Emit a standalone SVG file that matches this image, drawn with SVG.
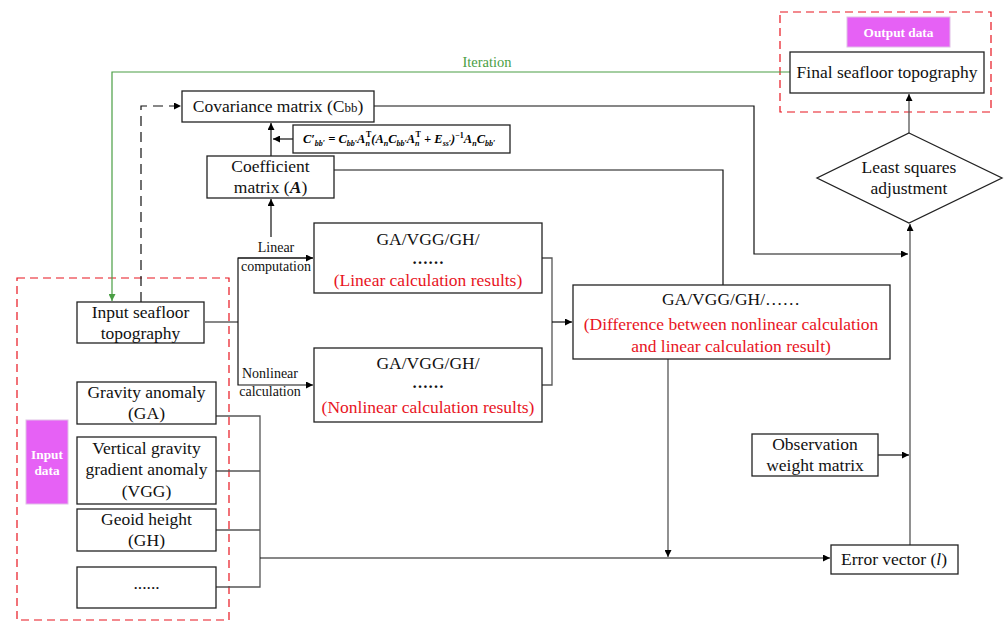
<svg xmlns="http://www.w3.org/2000/svg" width="1005" height="622" viewBox="0 0 1005 622">
<defs>
<marker id="ar" viewBox="0 0 10 10" refX="10" refY="5" markerWidth="9" markerHeight="7" markerUnits="userSpaceOnUse" orient="auto"><path d="M0,0 L10,5 L0,10 z" fill="#000"/></marker>
<marker id="arg" viewBox="0 0 10 10" refX="10" refY="5" markerWidth="9" markerHeight="7" markerUnits="userSpaceOnUse" orient="auto"><path d="M0,0 L10,5 L0,10 z" fill="#4a9e44"/></marker>
<style>
.box{fill:#fff;stroke:#222;stroke-width:1.3}
.t{font-family:"Liberation Serif","Times New Roman",serif;font-size:17.5px;fill:#111;text-anchor:middle}
.d{font-family:"Liberation Serif","Times New Roman",serif;font-size:16px;font-weight:bold;fill:#111;text-anchor:middle}
.r{fill:#e8141e}
.s{font-family:"Liberation Serif","Times New Roman",serif;font-size:14px;fill:#111;text-anchor:middle}
.ln{fill:none;stroke:#111;stroke-width:1.2}
.gr{fill:none;stroke:#555;stroke-width:1.3}
.dash{fill:none;stroke:#e8141e;stroke-width:1.2;stroke-dasharray:8,5}
.lab{fill:#e661f5;stroke:#e0c0e6;stroke-width:1}
.lt{font-family:"Liberation Serif","Times New Roman",serif;font-weight:bold;font-size:13.3px;fill:#fff;text-anchor:middle}
.f{font-family:"Liberation Serif","Times New Roman",serif;font-weight:bold;font-style:italic;font-size:12.5px;fill:#000}
</style>
</defs>

<g id="input-group">
<rect class="dash" x="17" y="278" width="212" height="342"/>
<rect class="lab" x="26" y="420" width="42" height="84"/>
<text class="lt" font-size="12.5" x="47" y="459">Input</text>
<text class="lt" font-size="12.5" x="47" y="475">data</text>
</g>

<g id="output-group">
<rect class="dash" x="780" y="12" width="211" height="100"/>
<rect class="lab" x="847" y="17" width="103" height="30"/>
<text class="lt" x="898.5" y="37">Output data</text>
</g>

<g id="connectors">
<polyline points="790,72 112,72 112,301" fill="none" stroke="#4a9e44" stroke-width="1.2" marker-end="url(#arg)"/>
<text x="487" y="67" font-family="Liberation Serif, serif" font-size="14.5" fill="#4a9e44" text-anchor="middle">Iteration</text>
<polyline points="141,302 141,106 181,106" fill="none" stroke="#111" stroke-width="1.2" stroke-dasharray="10,6" marker-end="url(#ar)"/>
<polyline class="ln" points="374,106 754,106 754,254 908,254" marker-end="url(#ar)"/>
<polyline class="ln" points="334,170 723,170 723,286"/>
<line class="ln" x1="271" y1="156" x2="271" y2="123" marker-end="url(#ar)"/>
<line class="ln" x1="293" y1="139" x2="273" y2="139" marker-end="url(#ar)"/>
<line class="ln" x1="271" y1="237" x2="271" y2="199" marker-end="url(#ar)"/>
<polyline class="ln" points="205,322 238,322"/>
<polyline class="ln" points="313,258 238,258 238,385 313,385" marker-end="url(#ar)"/>
<line class="ln" x1="238" y1="258" x2="313" y2="258" marker-end="url(#ar)"/>
<polyline class="gr" points="542,258 552,258 552,385 542,385"/>
<line class="ln" x1="552" y1="322" x2="572" y2="322" marker-end="url(#ar)"/>
<line class="gr" x1="668" y1="359" x2="668" y2="557" marker-end="url(#ar)"/>
<polyline class="gr" points="216,416 260,416 260,587 216,587"/>
<line class="gr" x1="216" y1="471" x2="260" y2="471"/>
<line class="gr" x1="216" y1="530" x2="260" y2="530"/>
<line class="ln" x1="260" y1="558" x2="830" y2="558" marker-end="url(#ar)"/>
<line class="gr" x1="910" y1="545" x2="910" y2="224" marker-end="url(#ar)"/>
<line class="ln" x1="878" y1="455" x2="909" y2="455" marker-end="url(#ar)"/>
<line class="gr" x1="909" y1="133" x2="909" y2="94" marker-end="url(#ar)"/>
<text class="s" x="276" y="252">Linear</text>
<text class="s" x="276" y="271">computation</text>
<text class="s" x="270" y="378">Nonlinear</text>
<text class="s" x="270" y="396">calculation</text>
</g>

<g id="final">
<rect class="box" x="790" y="52" width="194" height="41"/>
<text class="t" x="887" y="78">Final seafloor topography</text>
</g>

<g id="covariance">
<rect class="box" x="182" y="91" width="192" height="31"/>
<text class="t" x="278" y="112">Covariance matrix (C<tspan font-size="13">bb</tspan>)</text>
</g>

<g id="formula">
<rect class="box" x="293" y="125" width="217" height="28"/>
<text class="f" x="303" y="143">C′<tspan font-size="8" dy="3">bb′</tspan><tspan dy="-3"> = C</tspan><tspan font-size="8" dy="3">bb′</tspan><tspan dy="-3">A</tspan><tspan font-size="8" dy="3">n</tspan><tspan font-size="8" dx="-4" dy="-9" font-style="normal">T</tspan><tspan dy="6">(A</tspan><tspan font-size="8" dy="3">n</tspan><tspan dy="-3">C</tspan><tspan font-size="8" dy="3">bb′</tspan><tspan dy="-3">A</tspan><tspan font-size="8" dy="3">n</tspan><tspan font-size="8" dx="-4" dy="-9" font-style="normal">T</tspan><tspan dy="6"> + E</tspan><tspan font-size="8" dy="3">ss′</tspan><tspan dy="-3">)</tspan><tspan font-size="8" dy="-5" font-style="normal">−1</tspan><tspan dy="5">A</tspan><tspan font-size="8" dy="3">n</tspan><tspan dy="-3">C</tspan><tspan font-size="8" dy="3">bb′</tspan></text>
</g>

<g id="coefficient">
<rect class="box" x="207" y="156" width="127" height="42"/>
<text class="t" x="270.5" y="172">Coefficient</text>
<text class="t" x="270.5" y="193">matrix (<tspan font-weight="bold" font-style="italic">A</tspan>)</text>
</g>

<g id="linear">
<rect class="box" x="314" y="223" width="228" height="70"/>
<text class="t" x="428" y="245">GA/VGG/GH/</text>
<text class="d" x="428" y="264">……</text>
<text class="t r" x="428" y="286">(Linear calculation results)</text>
</g>

<g id="nonlinear">
<rect class="box" x="314" y="348" width="228" height="74"/>
<text class="t" x="428" y="369">GA/VGG/GH/</text>
<text class="d" x="428" y="388">……</text>
<text class="t r" x="428" y="413">(Nonlinear calculation results)</text>
</g>

<g id="difference">
<rect class="box" x="573" y="285" width="317" height="74"/>
<text class="t" x="731" y="305">GA/VGG/GH/……</text>
<text class="t r" x="731" y="330">(Difference between nonlinear calculation</text>
<text class="t r" x="731" y="352">and linear calculation result)</text>
</g>

<g id="lsa">
<polygon points="909,133 1002,178 909,223 817,178" fill="#fff" stroke="#222" stroke-width="1.3"/>
<text class="t" x="909" y="173">Least squares</text>
<text class="t" x="909" y="194">adjustment</text>
</g>

<g id="observation">
<rect class="box" x="752" y="434" width="126" height="42"/>
<text class="t" x="815" y="450">Observation</text>
<text class="t" x="815" y="471">weight matrix</text>
</g>

<g id="error">
<rect class="box" x="831" y="545" width="127" height="29"/>
<text class="t" x="894" y="565">Error vector (<tspan font-style="italic">l</tspan>)</text>
</g>

<g id="input-seafloor">
<rect class="box" x="77" y="302" width="127" height="41"/>
<text class="t" x="140.5" y="318">Input seafloor</text>
<text class="t" x="140.5" y="339">topography</text>
</g>

<g id="ga">
<rect class="box" x="77" y="382" width="139" height="42"/>
<text class="t" x="146.5" y="398">Gravity anomaly</text>
<text class="t" x="146.5" y="419">(GA)</text>
</g>

<g id="vgg">
<rect class="box" x="77" y="437" width="139" height="67"/>
<text class="t" x="146.5" y="454">Vertical gravity</text>
<text class="t" x="146.5" y="475">gradient anomaly</text>
<text class="t" x="146.5" y="497">(VGG)</text>
</g>

<g id="gh">
<rect class="box" x="77" y="509" width="139" height="42"/>
<text class="t" x="146.5" y="525">Geoid height</text>
<text class="t" x="146.5" y="546">(GH)</text>
</g>

<g id="others">
<rect class="box" x="77" y="567" width="139" height="41"/>
<text class="t" x="146.5" y="589">......</text>
</g>
</svg>
